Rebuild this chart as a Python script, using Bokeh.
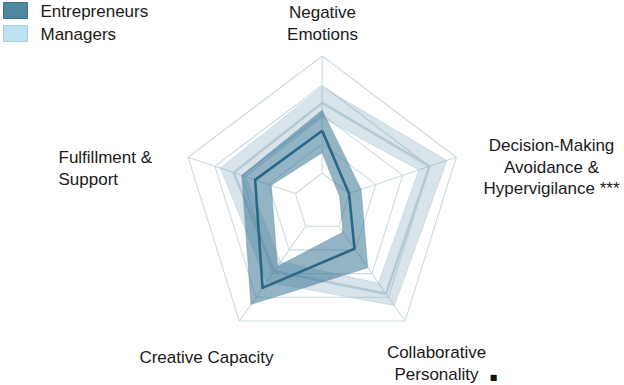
import numpy as np
from bokeh.plotting import figure
from bokeh.models import Range1d
from bokeh.core.properties import value
from bokeh.embed import file_html
from bokeh.resources import INLINE

# Radar dimensions (outer ring first, clockwise)
categories = [
    "Negative\nEmotions",
    "Decision-Making\nAvoidance &\nHypervigilance ***",
    "Collaborative\nPersonality",
    "Creative Capacity",
    "Fulfillment &\nSupport",
]
grid_levels = [1, 2, 3, 4, 5]

# Group profiles: mean with lower / upper interval bounds
entrepreneurs_mean = [2.45, 1.00, 1.95, 3.60, 2.50]
entrepreneurs_low = [1.70, 0.65, 1.25, 2.70, 1.90]
entrepreneurs_high = [3.15, 1.45, 2.75, 4.30, 3.00]

managers_mean = [3.40, 4.00, 3.85, 2.90, 3.30]
managers_low = [2.90, 3.60, 3.40, 2.50, 2.85]
managers_high = [3.95, 4.65, 4.35, 3.35, 3.80]

group_names = ["Entrepreneurs", "Managers"]

W, H = 624, 385
CX, CY = 321.7, 202.0        # pixel position of the radar centre
SX, SY = 141.0, 146.5        # pixels per unit radius
RMAX = 5.0

FONT = value("Liberation Sans")


def to_x(px):
    return (px - CX) / SX


def to_y(py):
    return (CY - py) / SY


n = len(categories)
theta = np.deg2rad(90 - 72 * np.arange(n))


def ring(vals):
    r = np.asarray(vals, dtype=float) / RMAX
    return list(r * np.cos(theta)), list(r * np.sin(theta))


p = figure(
    width=W, height=H,
    x_range=Range1d(-CX / SX, (W - CX) / SX),
    y_range=Range1d(-(H - CY) / SY, CY / SY),
    output_backend="svg", toolbar_location=None, min_border=0,
    x_axis_location=None, y_axis_location=None,
)
p.grid.visible = False
p.outline_line_color = None
p.background_fill_color = "white"
p.border_fill_color = "white"

GRID = "#cbdbe2"

# pentagon grid rings
for lv in grid_levels:
    gx, gy = ring([lv] * n)
    p.patch(gx + [gx[0]], gy + [gy[0]], fill_color=None, line_color=GRID, line_width=1.1)

# spokes from the innermost ring to the outer ring
r0, r1 = grid_levels[0] / RMAX, grid_levels[-1] / RMAX
p.multi_line(
    [[r0 * np.cos(t), r1 * np.cos(t)] for t in theta],
    [[r0 * np.sin(t), r1 * np.sin(t)] for t in theta],
    line_color=GRID, line_width=1.1,
)


def band(low, high, fill, alpha, edge):
    ox, oy = ring(high)
    ix, iy = ring(low)
    p.multi_polygons(
        xs=[[[ox, ix[::-1]]]], ys=[[[oy, iy[::-1]]]],
        fill_color=fill, fill_alpha=alpha,
        line_color=edge, line_alpha=0.5, line_width=1,
    )


def mean_line(vals, color, width):
    mx, my = ring(vals)
    p.line(mx + [mx[0]], my + [my[0]], line_color=color, line_width=width, line_join="round")


# Managers (drawn underneath)
band(managers_low, managers_high, "#7fa3b8", 0.30, "#b7cbd6")
mean_line(managers_mean, "#b3c9d5", 2.5)

# Entrepreneurs
band(entrepreneurs_low, entrepreneurs_high, "#2f6f8f", 0.52, "#6f98ad")
mean_line(entrepreneurs_mean, "#2a6785", 2.6)

# axis labels: (anchor x px, first line y px, align)
label_pos = [
    (322, 12, "center"),
    (551, 145, "center"),
    (436, 352, "center"),
    (206, 357, "center"),
    (58, 157, "left"),
]
LINE_STEP = 21.5
for cat, (lx, ly, al) in zip(categories, label_pos):
    lines = cat.split("\n")
    p.text(
        x=[to_x(lx)] * len(lines),
        y=[to_y(ly + i * LINE_STEP) for i in range(len(lines))],
        text=lines,
        text_font=FONT, text_font_size="17px", text_color="#1a1a1a",
        text_align=al, text_baseline="middle",
    )

# significance marker next to the collaborative personality label
p.text(x=[to_x(493)], y=[to_y(377)], text=["\u25a0"], text_font=value("DejaVu Sans"),
       text_font_size="8px", text_color="#111111",
       text_align="center", text_baseline="middle")

# legend
legend_fill = ["#4f87a0", "#bde3f3"]
legend_edge = ["#3f7088", "#a5cfe0"]
for i, (name, fc, ec) in enumerate(zip(group_names, legend_fill, legend_edge)):
    top = 2 + i * 23
    p.quad(left=[to_x(3)], right=[to_x(27)], top=[to_y(top)], bottom=[to_y(top + 16)],
           fill_color=fc, line_color=ec, line_width=1)
    p.text(x=[to_x(40)], y=[to_y(top + 9)], text=[name], text_font=FONT,
           text_font_size="17px", text_color="#1a1a1a",
           text_align="left", text_baseline="middle")

open("out.html", "w").write(file_html(p, INLINE))
